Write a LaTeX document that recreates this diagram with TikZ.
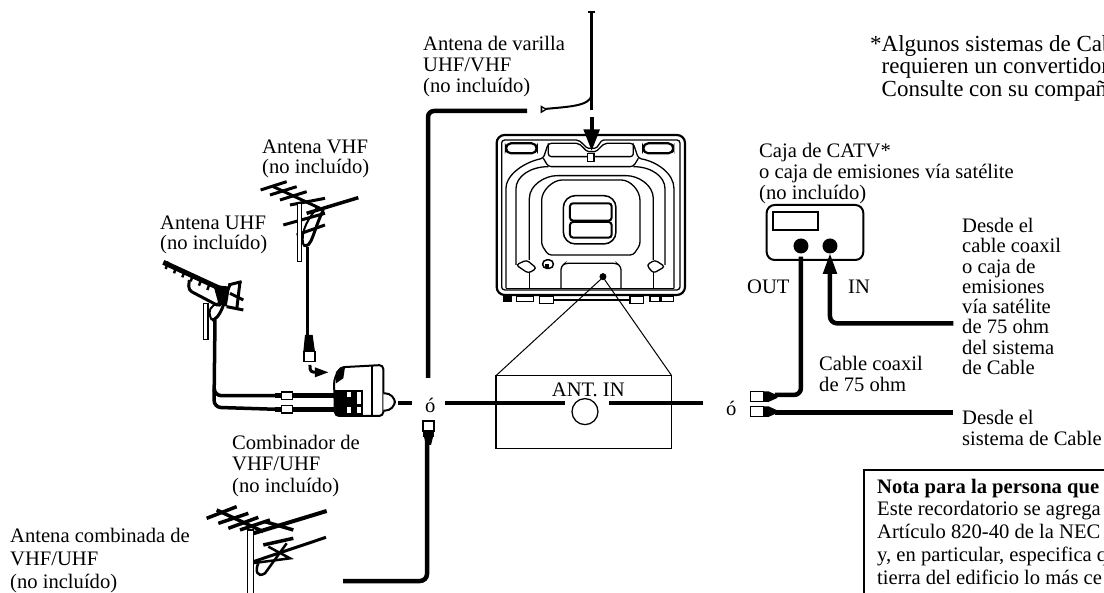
\documentclass[tikz,border=0pt]{standalone}
\usepackage{fontspec}
\setmainfont{Liberation Serif}
\tikzset{
	lbl/.style={align=left,anchor=north west,inner sep=0pt,font=\fontsize{20.6}{#1}\selectfont},
	lbl/.default=21,
	cable/.style={line width=4.5pt,line join=round},
	leadin/.style={line width=3pt},
	tv line/.style={line width=1.3pt,rounded corners=3pt},
	plug/.style={draw,fill=white,line width=1.2pt},
	z map a/.style={shift={(130,130)},x=.3333pt,y=-.3333pt},
	z map b/.style={shift={(470,0)},x=.3333pt,y=-.3333pt},
	z map c/.style={shift={(700,150)},x=.3333pt,y=-.3333pt},
	z map d/.style={shift={(190,430)},x=.3333pt,y=-.3333pt}
}
\begin{document}
\begin{tikzpicture}[x=1pt,y=-1pt]
	\useasboundingbox (0,0) rectangle (1104,593);
	\clip (0,0) rectangle (1104,593);

	% labels
	\node[lbl] (rodlbl) at (423,36) {Antena de varilla\\UHF/VHF\\(no incluído)};
	\node[lbl,font=\fontsize{23}{22.5}\selectfont] (notelbl) at (870,35) {*Algunos sistemas de Cab\\\hspace*{11.5pt}requieren un convertidor\\\hspace*{11.5pt}Consulte con su compañ};
	\node[lbl=20] (vhflbl) at (262,140) {Antena VHF\\(no incluído)};
	\node[lbl=20] (uhflbl) at (160,216) {Antena UHF\\(no incluído)};
	\node[lbl] (catvlbl) at (759,143) {Caja de CATV*\\o caja de emisiones vía satélite\\(no incluído)};
	\node[lbl=20.3] (fromcoax) at (962,218) {Desde el\\cable coaxil\\o caja de\\emisiones\\vía satélite\\de 75 ohm\\del sistema\\de Cable};
	\node[lbl] (outlbl) at (747,280) {OUT};
	\node[lbl] (inlbl) at (848,280) {IN};
	\node[lbl] (coaxlbl) at (819,356) {Cable coaxil\\de 75 ohm};
	\node[lbl] (fromcable) at (962,410) {Desde el\\sistema de Cable};
	\node[lbl=21.5] (combilbl) at (232,435) {Combinador de\\VHF/UHF\\(no incluído)};
	\node[lbl=23] (combolbl) at (10,528) {Antena combinada de\\VHF/UHF\\(no incluído)};
	\node[lbl] (orleft) at (425,398) {ó};
	\node[lbl] (orright) at (726,401) {ó};

	% note box
	\draw[line width=1.5pt] (1104,470) -- (864,470) -- (864,593);
	\node[lbl,font=\fontsize{20.6}{23}\selectfont\bfseries] (nota) at (877,479) {Nota para la persona que};
	\node[lbl=23] (notatxt) at (877,501) {Este recordatorio se agrega\\Artículo 820-40 de la NEC\\y, en particular, especifica q\\tierra del edificio lo más ce};

	% TV
	\begin{scope}[z map b]
		\draw[line width=2.2pt,rounded corners=8pt] (80,405) rectangle (645,885);
		\draw[tv line] (95,420) -- (95,870) -- (630,870) -- (630,420) -- (410,420) .. controls (390,420) and (385,445) .. (365,445) .. controls (345,445) and (335,420) .. (310,420) -- cycle;
		\draw[line width=2.2pt,rounded corners=5pt] (108,430) rectangle (200,460);
		\draw[line width=2.2pt,rounded corners=5pt] (520,430) rectangle (610,460);
		\draw[tv line] (108,865) -- (108,575) .. controls (108,520) and (170,485) .. (220,475) -- (235,430) -- (310,430) .. controls (335,430) and (345,455) .. (365,455) .. controls (385,455) and (395,430) .. (420,430) -- (490,430) -- (505,475) .. controls (560,485) and (612,520) .. (612,575) -- (612,865);
		\draw[tv line] (235,430) -- (235,470) -- (490,470) -- (490,430);
		\draw[tv line] (220,475) -- (235,500) -- (490,500) -- (505,475);
		\draw[tv line] (138,795) -- (138,575) .. controls (138,530) and (180,500) .. (235,500);
		\draw[tv line] (585,795) -- (585,575) .. controls (585,530) and (545,500) .. (490,500);
		\draw[tv line] (178,780) -- (178,605) .. controls (178,555) and (225,527) .. (270,527) -- (460,527) .. controls (505,527) and (550,555) .. (550,605) -- (550,780);
		\draw[tv line] (215,735) -- (215,610) .. controls (215,570) and (250,540) .. (285,540) -- (445,540) .. controls (480,540) and (510,570) .. (510,610) -- (510,735) -- (490,765) -- (235,765) -- cycle;
		\draw[line width=1.5pt,rounded corners=12pt] (280,587) rectangle (438,732);
		\draw[line width=2pt,rounded corners=3pt] (300,610) rectangle (425,662);
		\draw[line width=2pt,rounded corners=3pt] (300,666) rectangle (425,713);
		\draw[tv line] (138,795) -- (170,780) -- (200,805) -- (175,820) -- cycle;
		\draw[tv line] (530,795) -- (555,780) -- (585,800) -- (550,820) -- cycle;
		\draw[tv line] (178,820) -- (178,865);
		\draw[tv line] (550,820) -- (550,865);
		\draw[tv line] (108,865) -- (612,865);
		\draw[tv line] (273,865) -- (273,800) -- (285,790) -- (440,790) -- (453,800) -- (453,865);
		\draw[line width=1.5pt,rounded corners=4pt] (218,780) rectangle (250,805);
		\fill (226,793) rectangle (236,803);
		\fill (100,885) rectangle (125,905);
		\draw[line width=1.5pt] (140,890) rectangle (190,905);
		\draw[line width=1.5pt] (208,890) rectangle (250,910);
		\draw[line width=2pt] (250,900) -- (480,900);
		\draw[line width=1.5pt] (480,890) rectangle (520,910);
		\draw[line width=1.5pt] (540,890) rectangle (570,905);
		\draw[line width=1.5pt] (575,890) rectangle (610,905);
		\draw[plug] (352,460) rectangle (372,485);
		% inset
		\fill (399,830) circle (3.5pt);
		\coordinate (antdot) at (399,832);
		\coordinate (insetl) at (78,1127);
		\coordinate (insetr) at (605,1127);
		\draw[line width=1.5pt] (insetl) -- (insetr) -- (605,1345) -- (78,1345) -- cycle;
		\draw[line width=1pt] (insetl) -- (antdot) -- (insetr);
		\node[inner sep=0pt,font=\fontsize{20.6}{22}\selectfont] (antin) at (355,1170) {ANT. IN};
		\draw[line width=1.3pt] (345,1235) circle (13pt);
		% rod antenna
		\coordinate (rodtop) at (365,35);
		\coordinate (rodbot) at (365,330);
		\coordinate (rodtip) at (215,328);
		\draw[line width=3pt] (rodtop) -- (rodbot);
		\fill (355,32) rectangle (375,38);
		\draw[line width=2pt] (rodtip) .. controls (290,320) and (360,320) .. (365,285);
		\fill (212,316) -- (232,328) -- (212,340) -- cycle;
		\fill[white] (217,324) -- (224,328) -- (217,332) -- cycle;
		\draw[line width=4pt] (365,350) -- (365,410);
		\fill (340,388) -- (390,388) -- (365,452) -- cycle;
	\end{scope}

	% cables to the TV
	\coordinate (rodend) at (527,111);
	\coordinate (rodcorner) at (428,111);
	\coordinate (rodleft) at (428,378);
	\draw[cable,rounded corners=6pt] (rodend) -- (rodcorner) -- (rodleft);
	\draw[cable] (398,403) -- (412,403);
	\draw[cable] (445,403) -- (565,403);
	\draw[cable] (609,403) -- (703,403);
	\coordinate (comboend) at (343,581);
	\coordinate (combocorner) at (427,581);
	\coordinate (combotop) at (427,440);
	\draw[cable,rounded corners=7pt] (comboend) -- (combocorner) -- (combotop);
	\draw[line width=1.5pt,fill=white] (423,421) rectangle (434,431);
	\fill (423,431) rectangle (434,437);
	\fill (424,437) -- (433,437) -- (431,445) -- (426,445) -- cycle;

	% VHF antenna
	\begin{scope}[z map a]
		\draw[line width=3pt] (392,180) -- (470,155);
		\draw[line width=3pt] (420,195) -- (500,170);
		\draw[line width=3pt] (450,210) -- (530,185);
		\draw[line width=3pt] (480,225) -- (585,205);
		\draw[line width=3pt] (430,170) -- (570,235);
		\draw[line width=3.5pt] (530,250) -- (685,203);
		\draw[line width=3pt] (460,285) -- (585,250);
		\draw[line width=3pt] (500,315) -- (585,285);
		\draw[line width=1.2pt,fill=white] (503,220) rectangle (514,395);
		\draw[line width=3pt] (520,345) .. controls (545,360) and (550,300) .. (580,240);
		\draw[line width=2pt] (520,345) .. controls (510,300) and (540,260) .. (560,235);
		\coordinate (vhfa) at (533,350);
		\coordinate (vhfb) at (533,615);
		\draw[leadin] (vhfa) -- (vhfb);
		\fill (525,615) -- (548,615) -- (555,665) -- (520,665) -- cycle;
		\draw[plug] (522,665) rectangle (555,695);
		\coordinate (bends) at (540,705);
		\coordinate (bende) at (560,727);
		\draw[line width=3pt] (bends) .. controls (538,725) and (545,727) .. (bende);
		\fill (555,712) -- (595,727) -- (555,742) -- cycle;

		% UHF antenna
		\draw[line width=5pt] (100,397) -- (280,480);
		\foreach \tx/\ty in {115/395,140/408,165/420,190/432,215/445,240/458}
			\draw[line width=2.5pt] (\tx,\ty) -- ++(-8,22);
		\draw[line width=3pt,rounded corners=4pt] (178,450) -- (175,480) -- (270,530) -- (300,465);
		\draw[line width=3pt] (295,465) -- (335,455);
		\draw[line width=3pt] (300,490) -- (340,510);
		\draw[line width=3pt] (290,530) -- (340,540);
		\draw[line width=3pt] (330,455) -- (320,540);
		\fill (250,465) -- (300,470) -- (290,530) -- (265,520) -- cycle;
		\draw[line width=1.2pt,fill=white] (221,520) rectangle (234,628);
		\draw[line width=3pt] (245,570) .. controls (265,570) and (280,530) .. (285,510);
		\draw[line width=2pt] (245,570) .. controls (230,540) and (245,525) .. (265,520);

		% combiner
		\coordinate (uhftop) at (255,570);
		\coordinate (uhfcor) at (252,832);
		\coordinate (uhfa) at (440,797);
		\coordinate (uhfb) at (440,838);
		\draw[line width=3.5pt,rounded corners=7pt] (uhftop) -- (uhfcor) -- (uhfb);
		\draw[line width=3.5pt,rounded corners=7pt] (253,785) -- (253,797) -- (uhfa);
		\foreach \py in {797,838}{
			\fill (435,\py-7) rectangle (460,\py+7);
			\draw[plug] (455,\py-11) rectangle (487,\py+11);
			\draw[line width=4.5pt] (487,\py) -- (620,\py);
		}
		\draw[line width=2pt,fill=white,rounded corners=4pt] (760,705) -- (760,858) -- (615,858) -- (612,750) -- (630,712) -- cycle;
		\draw[line width=2pt] (725,705) -- (725,858);
		\draw[line width=2pt,fill=white,rounded corners=10pt] (760,790) -- (795,790) -- (795,842) -- (760,842);
		\fill (615,780) rectangle (700,855);
		\fill[white] (650,785) rectangle (662,802);
		\fill[white] (680,785) rectangle (692,822);
		\fill[white] (650,830) rectangle (662,848);
		\fill[white] (680,830) rectangle (692,850);
		\fill (618,725) -- (645,712) -- (640,745) -- (618,760) -- cycle;
	\end{scope}

	% combination antenna
	\begin{scope}[z map d]
		\draw[line width=3.5pt] (50,265) -- (140,230);
		\draw[line width=3.5pt] (85,280) -- (175,250);
		\draw[line width=3.5pt] (115,295) -- (205,262);
		\draw[line width=3.5pt] (150,300) -- (240,270);
		\draw[line width=3.5pt] (80,240) -- (220,305);
		\draw[line width=4pt] (190,310) -- (410,243);
		\draw[line width=3.5pt] (225,275) -- (310,300);
		\draw[line width=3.5pt] (220,345) -- (310,325);
		\draw[line width=3pt] (190,395) -- (408,322);
		\draw[line width=2.5pt] (235,350) -- (300,385) -- (185,400);
		\draw[line width=2.5pt] (290,340) -- (225,430) .. controls (200,445) and (195,420) .. (205,400);
		\draw[line width=1.2pt,fill=white] (172,300) rectangle (190,490);
	\end{scope}

	% cable box
	\begin{scope}[z map c]
		\draw[line width=2pt,rounded corners=8pt] (200,165) rectangle (490,330);
		\draw[line width=1.8pt] (218,185) rectangle (355,240);
		\fill (303,288) circle (7.5pt);
		\fill (390,288) circle (7.5pt);
		\coordinate (outjack) at (303,320);
		\coordinate (outbend) at (303,735);
		\coordinate (outplug) at (225,735);
		\coordinate (injack) at (390,372);
		\coordinate (inbend) at (390,520);
		\coordinate (inend) at (760,520);
		\coordinate (lowplug) at (225,788);
		\coordinate (lowend) at (760,788);
		\draw[cable,rounded corners=7pt] (outjack) -- (outbend) -- (outplug);
		\draw[cable,rounded corners=7pt] (injack) -- (inbend) -- (inend);
		\draw[cable] (lowplug) -- (lowend);
		\fill (390,312) -- (368,372) -- (412,372) -- cycle;
		\foreach \py in {740,785}{
			\draw[plug] (152,\py-15) rectangle (190,\py+15);
			\fill (190,\py-16) -- (205,\py-16) -- (232,\py-4) -- (232,\py+4) -- (205,\py+16) -- (190,\py+16) -- cycle;
		}
	\end{scope}
\end{tikzpicture}
\end{document}
